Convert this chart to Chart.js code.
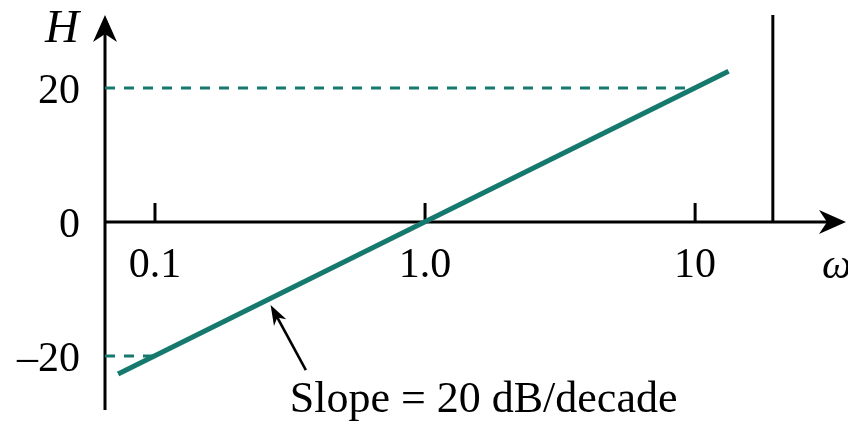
<!DOCTYPE html>
<html>
<head>
<meta charset="utf-8">
<script src="https://cdn.jsdelivr.net/npm/chart.js@4"></script>
<style>
  html, body { margin: 0; padding: 0; background: #fff; }
  canvas { display: block; }
</style>
</head>
<body>
<canvas id="bode" width="848" height="428"></canvas>
<script>
const SERIF = '"Liberation Serif", "Times New Roman", serif';
const TEAL = '#16796d';

// axis ticks
const xTicks = [0.1, 1.0, 10];
const xTickLabels = ['0.1', '1.0', '10'];
const yTicks = [20, 0, -20];
const yTickLabels = ['20', '0', '–20'];

// axis ranges (log omega, dB)
const omegaMin = 0.0653, omegaMax = 36.2;
const dbMin = -28.06, dbMax = 30.9;

// +20 dB/decade asymptote
const slopeOmega = [0.073, 13.3];
const slopeDb = [-22.7, 22.5];

// dashed guides at +/-20 dB
const guideHighOmega = [omegaMin, 10];
const guideHighDb = [20, 20];
const guideLowOmega = [omegaMin, 0.1];
const guideLowDb = [-20, -20];

// vertical marker on the right
const markerOmega = [19.4, 19.4];
const markerDb = [0, dbMax];

// callout arrow: tail -> tip, and its caption
const noteOmega = [0.362, 0.268];
const noteDb = [-22.1, -12.4];
const noteText = 'Slope = 20 dB/decade';
const noteTextOmega = 1.647, noteTextDb = -28.36;

const pts = (xs, ys) => xs.map((x, i) => ({ x: x, y: ys[i] }));

function arrowHead(ctx, x, y, angle) {
    ctx.save();
    ctx.translate(x, y);
    ctx.rotate(angle);
    ctx.beginPath();
    ctx.moveTo(0, 0);
    ctx.lineTo(-27, -12);
    ctx.lineTo(-19, 0);
    ctx.lineTo(-27, 12);
    ctx.closePath();
    ctx.fill();
    ctx.restore();
}

const axesPlugin = {
    id: 'bodeAxes',
    beforeDatasetsDraw(chart) {
        const ctx = chart.ctx;
        const xs = chart.scales.x, ys = chart.scales.y;
        const x0 = xs.getPixelForValue(omegaMin);
        const y0 = ys.getPixelForValue(0);
        const top = ys.getPixelForValue(dbMax);
        const bottom = ys.getPixelForValue(dbMin);
        const right = xs.getPixelForValue(omegaMax);

        ctx.save();
        ctx.strokeStyle = '#000';
        ctx.fillStyle = '#000';
        ctx.lineWidth = 3;

        // vertical H axis
        ctx.beginPath();
        ctx.moveTo(x0, bottom);
        ctx.lineTo(x0, top + 10);
        ctx.stroke();
        arrowHead(ctx, x0, top, -Math.PI / 2);

        // horizontal omega axis
        ctx.beginPath();
        ctx.moveTo(x0, y0);
        ctx.lineTo(right - 10, y0);
        ctx.stroke();
        arrowHead(ctx, right, y0, 0);

        // decade ticks
        xTicks.forEach(v => {
            const px = xs.getPixelForValue(v);
            ctx.beginPath();
            ctx.moveTo(px, y0);
            ctx.lineTo(px, y0 - 19);
            ctx.stroke();
        });

        ctx.font = '42px ' + SERIF;
        ctx.textBaseline = 'alphabetic';
        ctx.textAlign = 'center';
        xTicks.forEach((v, i) => {
            ctx.fillText(xTickLabels[i], xs.getPixelForValue(v), y0 + 55);
        });
        ctx.textAlign = 'right';
        yTicks.forEach((v, i) => {
            ctx.fillText(yTickLabels[i], 80, ys.getPixelForValue(v) + 15);
        });

        ctx.font = 'italic 47px ' + SERIF;
        ctx.textAlign = 'center';
        ctx.fillText('H', 62, top + 27);
        ctx.font = 'italic 42px ' + SERIF;
        ctx.textAlign = 'left';
        ctx.fillText('ω', 822, y0 + 56);
        ctx.restore();
    },
    afterDatasetsDraw(chart) {
        const ctx = chart.ctx;
        const xs = chart.scales.x, ys = chart.scales.y;
        const tx = xs.getPixelForValue(noteOmega[0]), ty = ys.getPixelForValue(noteDb[0]);
        const hx = xs.getPixelForValue(noteOmega[1]), hy = ys.getPixelForValue(noteDb[1]);
        const ang = Math.atan2(hy - ty, hx - tx);

        ctx.save();
        ctx.strokeStyle = '#000';
        ctx.fillStyle = '#000';
        ctx.lineWidth = 2.6;
        ctx.beginPath();
        ctx.moveTo(tx, ty);
        ctx.lineTo(hx - 10 * Math.cos(ang), hy - 10 * Math.sin(ang));
        ctx.stroke();
        ctx.translate(hx, hy);
        ctx.rotate(ang);
        ctx.beginPath();
        ctx.moveTo(0, 0);
        ctx.lineTo(-20, -7);
        ctx.lineTo(-14, 0);
        ctx.lineTo(-20, 7);
        ctx.closePath();
        ctx.fill();
        ctx.restore();

        ctx.save();
        ctx.fillStyle = '#000';
        ctx.font = '44px ' + SERIF;
        ctx.textAlign = 'center';
        ctx.textBaseline = 'alphabetic';
        ctx.fillText(noteText, xs.getPixelForValue(noteTextOmega), ys.getPixelForValue(noteTextDb));
        ctx.restore();
    }
};

new Chart(document.getElementById('bode'), {
    type: 'scatter',
    data: {
        datasets: [
            {
                data: pts(guideHighOmega, guideHighDb),
                showLine: true, borderColor: TEAL, borderWidth: 3,
                borderDash: [10, 9], pointRadius: 0
            },
            {
                data: pts(guideLowOmega, guideLowDb),
                showLine: true, borderColor: TEAL, borderWidth: 3,
                borderDash: [10, 9], pointRadius: 0
            },
            {
                data: pts(markerOmega, markerDb),
                showLine: true, borderColor: '#000', borderWidth: 3, pointRadius: 0
            },
            {
                data: pts(slopeOmega, slopeDb),
                showLine: true, borderColor: TEAL, borderWidth: 5,
                borderCapStyle: 'butt', pointRadius: 0
            }
        ]
    },
    options: {
        responsive: false,
        devicePixelRatio: 1,
        animation: false,
        clip: false,
        layout: { padding: { left: 105, right: 2, top: 15, bottom: 18 } },
        plugins: { legend: { display: false }, tooltip: { enabled: false } },
        scales: {
            x: { type: 'logarithmic', min: omegaMin, max: omegaMax, display: false },
            y: { type: 'linear', min: dbMin, max: dbMax, display: false }
        }
    },
    plugins: [axesPlugin]
});
</script>
</body>
</html>
